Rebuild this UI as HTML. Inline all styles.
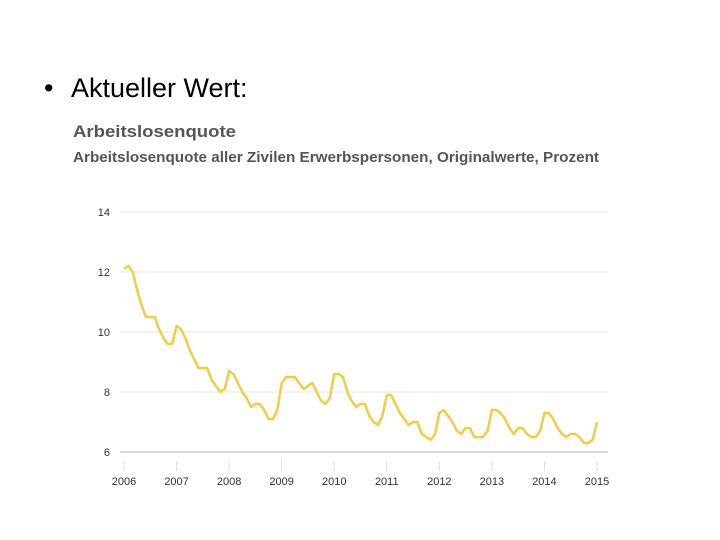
<!DOCTYPE html>
<html><head><meta charset="utf-8"><style>
body{margin:0;background:#fff;width:720px;height:540px;overflow:hidden;font-family:"Liberation Sans",sans-serif}
</style></head><body>
<div style="position:absolute;left:44px;top:73px;font-size:27px;color:#000"><span>•</span><span style="position:absolute;left:27px;white-space:nowrap">Aktueller Wert:</span></div>
<svg width="720" height="540" style="position:absolute;left:0;top:0">
<text x="73" y="137" font-size="17" font-weight="bold" fill="#555" font-family="Liberation Sans" textLength="163" lengthAdjust="spacingAndGlyphs">Arbeitslosenquote</text>
<text x="73" y="162" font-size="14.5" font-weight="bold" fill="#555" font-family="Liberation Sans" textLength="526" lengthAdjust="spacingAndGlyphs">Arbeitslosenquote aller Zivilen Erwerbspersonen, Originalwerte, Prozent</text>
<g id="grid"></g><g id="xax"></g>
<polyline id="line" fill="none" stroke="#f0cc48" stroke-width="2.5" stroke-linejoin="round"/>
</svg>
<script>
const yTicks=[6,8,10,12,14];
const xYears=[2006,2007,2008,2009,2010,2011,2012,2013,2014,2015];
const startYear=2006;
const rates=[
12.1,12.2,12.0,11.4,10.9,10.5,10.5,10.5,10.1,9.8,9.6,9.6,
10.2,10.1,9.8,9.4,9.1,8.8,8.8,8.8,8.4,8.2,8.0,8.1,
8.7,8.6,8.3,8.0,7.8,7.5,7.6,7.6,7.4,7.1,7.1,7.4,
8.3,8.5,8.5,8.5,8.3,8.1,8.2,8.3,8.0,7.7,7.6,7.8,
8.6,8.6,8.5,8.0,7.7,7.5,7.6,7.6,7.2,7.0,6.9,7.2,
7.9,7.9,7.6,7.3,7.1,6.9,7.0,7.0,6.6,6.5,6.4,6.6,
7.3,7.4,7.2,7.0,6.7,6.6,6.8,6.8,6.5,6.5,6.5,6.7,
7.4,7.4,7.3,7.1,6.8,6.6,6.8,6.8,6.6,6.5,6.5,6.7,
7.3,7.3,7.1,6.8,6.6,6.5,6.6,6.6,6.5,6.3,6.3,6.4,
7.0];
const ns="http://www.w3.org/2000/svg";
const y=v=>452-(v-6)*30;
const x=t=>124+(t-2006)*(473/9);
const g=document.getElementById('grid'),xa=document.getElementById('xax');
yTicks.forEach(v=>{
 const l=document.createElementNS(ns,'line');
 
 
 l.setAttribute('x1',120);l.setAttribute('x2',608);l.setAttribute('y1',y(v));l.setAttribute('y2',y(v));
 l.setAttribute('stroke',v===6?'#d8d8d8':'#e6e6e6');l.setAttribute('stroke-width',v===6?2:1);g.appendChild(l);
 const t=document.createElementNS(ns,'text');
 
 
 t.setAttribute('x',110);t.setAttribute('y',y(v)+4);t.setAttribute('text-anchor','end');
 t.setAttribute('font-size','11');t.setAttribute('fill','#333');t.textContent=v;g.appendChild(t);
});
xYears.forEach(yr=>{
 const l=document.createElementNS(ns,'line');
 
 
 l.setAttribute('x1',x(yr));l.setAttribute('x2',x(yr));l.setAttribute('y1',461);l.setAttribute('y2',471);
 l.setAttribute('stroke','#ddd');xa.appendChild(l);
 const t=document.createElementNS(ns,'text');
 
 
 t.setAttribute('x',x(yr));t.setAttribute('y',485);t.setAttribute('text-anchor','middle');
 t.setAttribute('font-size','11');t.setAttribute('fill','#333');t.textContent=yr;xa.appendChild(t);
});
document.getElementById('line').setAttribute('points',rates.map((v,i)=>x(startYear+i/12).toFixed(1)+','+y(v).toFixed(1)).join(' '));
</script>
</body></html>
